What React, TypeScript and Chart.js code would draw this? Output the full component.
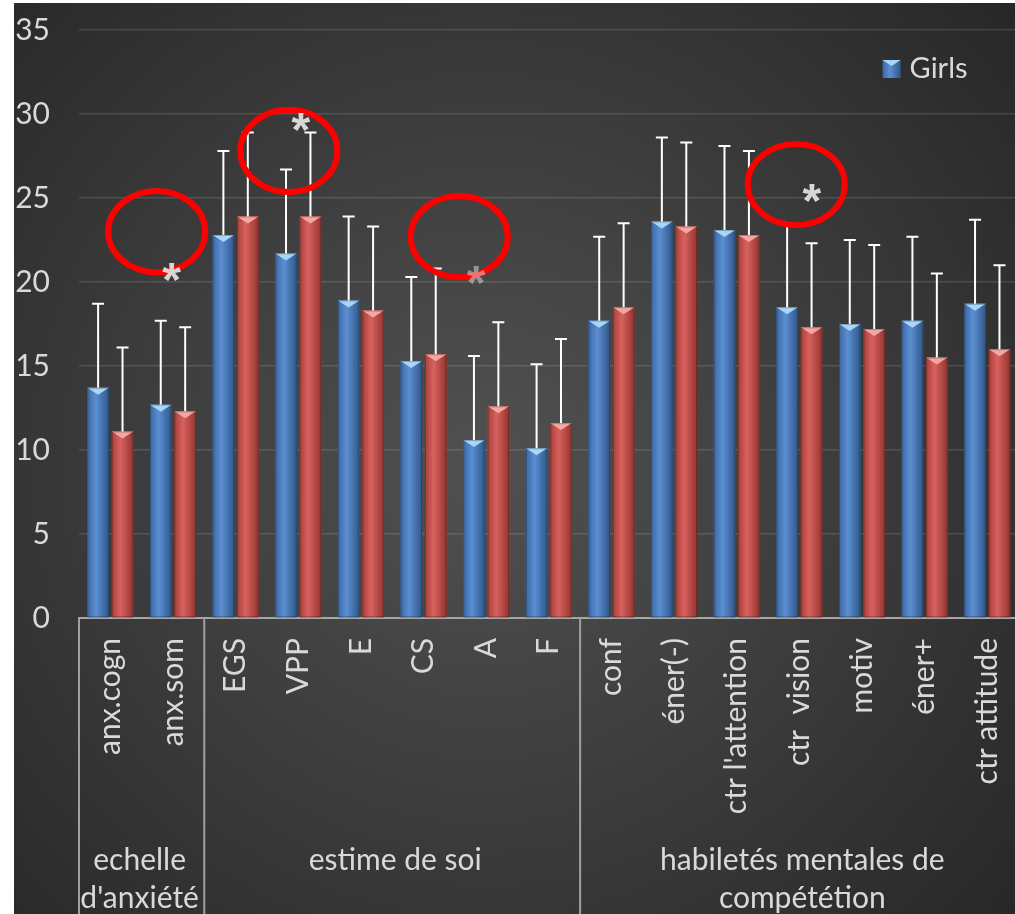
import React, { useEffect, useRef } from "react";
import { Chart, registerables } from "chart.js";
Chart.register(...registerables);

// ---------- data ----------
const categories = [
  "anx.cogn", "anx.som",
  "EGS", "VPP", "E", "CS", "A", "F",
  "conf", "éner(-)", "ctr l'attention", "ctr  vision", "motiv", "éner+", "ctr attitude",
];
const groupNames = [["echelle", "d'anxiété"], ["estime de soi"], ["habiletés mentales de", "compététion"]];
const groupSizes = [2, 6, 7];

const girls = [13.7, 12.7, 22.8, 21.7, 18.9, 15.3, 10.6, 10.1, 17.7, 23.6, 23.1, 18.5, 17.5, 17.7, 18.7];
const boys = [11.1, 12.3, 23.9, 23.9, 18.3, 15.7, 12.6, 11.6, 18.5, 23.3, 22.8, 17.3, 17.2, 15.5, 16.0];
const girlsSD = [5.0, 5.0, 5.0, 5.0, 5.0, 5.0, 5.0, 5.0, 5.0, 5.0, 5.0, 5.0, 5.0, 5.0, 5.0];
const boysSD = [5.0, 5.0, 5.0, 5.0, 5.0, 5.1, 5.0, 5.0, 5.0, 5.0, 5.0, 5.0, 5.0, 5.0, 5.0];

const yTicks = [0, 5, 10, 15, 20, 25, 30, 35];

// significance annotations (category-position units, value units)
const starPos = [0.98, 3.04, 5.84, 11.2];
const starVal = [20.6, 29.5, 20.4, 25.3];
const starAlpha = [1, 1, 0.55, 1];
const ellipsePos = [0.74, 2.85, 5.57, 10.95];
const ellipseVal = [23.0, 27.8, 22.7, 25.8];
const ellipseRadiusCat = [0.775, 0.775, 0.775, 0.775];
const ellipseRadiusVal = [2.42, 2.45, 2.42, 2.42];

const FONT = "Lato";
const TEXT = "#d9d9d9";
const FS = 30;
const TOP_CUT = 20; // canvas rows above the visible dark panel

const palettes = [
  { left: "#3b68a2", mid: "#5b8fd2", right: "#30578a", tip: "#a8d6f8" },
  { left: "#a83f3b", mid: "#d8625d", right: "#933430", tip: "#f3a7a3" },
];

export default function App() {
  const ref = useRef<HTMLCanvasElement>(null);
  useEffect(() => {
    const canvas = ref.current!;
    const bgPlugin = {
      id: "bg",
      beforeDraw(chart: any) {
        const { ctx, width, height } = chart;
        const cy = 460 + TOP_CUT;
        const g = ctx.createRadialGradient(470, cy, 0, 470, cy, 720);
        g.addColorStop(0, "#515151");
        g.addColorStop(1, "#262626");
        ctx.save();
        ctx.fillStyle = "#ffffff";
        ctx.fillRect(0, 0, width, TOP_CUT);
        ctx.fillStyle = g;
        ctx.fillRect(0, TOP_CUT, width, height - TOP_CUT);
        ctx.restore();
      },
    };
    const barPlugin = {
      id: "bars3d",
      afterDatasetsDraw(chart: any) {
        const ctx = chart.ctx;
        const yScale = chart.scales.y;
        chart.data.datasets.forEach((ds: any, di: number) => {
          const meta = chart.getDatasetMeta(di);
          const pal = palettes[di];
          const sds = di === 0 ? girlsSD : boysSD;
          meta.data.forEach((el: any, i: number) => {
            const w = el.width;
            const l = el.x - w / 2;
            const r = el.x + w / 2;
            const top = el.y;
            const base = el.base;
            ctx.save();
            const g = ctx.createLinearGradient(l, 0, r, 0);
            g.addColorStop(0, pal.left);
            g.addColorStop(0.4, pal.mid);
            g.addColorStop(1, pal.right);
            ctx.fillStyle = g;
            ctx.fillRect(l, top, w, base - top);
            ctx.beginPath();
            ctx.moveTo(l, top);
            ctx.lineTo(r, top);
            ctx.lineTo(el.x, top + 7);
            ctx.closePath();
            ctx.fillStyle = pal.tip;
            ctx.fill();
            ctx.strokeStyle = "rgba(0,0,0,0.25)";
            ctx.lineWidth = 1;
            ctx.strokeRect(l + 0.5, top + 0.5, w - 1, base - top - 1);
            // error bar
            const yErr = yScale.getPixelForValue(ds.data[i] + sds[i]);
            ctx.strokeStyle = "#ffffff";
            ctx.lineWidth = 2;
            ctx.beginPath();
            ctx.moveTo(el.x, top);
            ctx.lineTo(el.x, yErr);
            ctx.moveTo(el.x - 6, yErr);
            ctx.lineTo(el.x + 6, yErr);
            ctx.stroke();
            ctx.restore();
          });
        });
      },
    };
    const annoPlugin = {
      id: "anno",
      afterDraw(chart: any) {
        const ctx = chart.ctx;
        const xs = chart.scales.x;
        const ys = chart.scales.y;
        const x0 = xs.getPixelForValue(0);
        const cw = xs.getPixelForValue(1) - x0;
        const unit = ys.getPixelForValue(0) - ys.getPixelForValue(1);
        const px = (p: number) => x0 + p * cw;
        ctx.save();
        // ellipses
        ctx.strokeStyle = "#ff0000";
        ctx.lineWidth = 6;
        ellipsePos.forEach((p, i) => {
          ctx.beginPath();
          ctx.ellipse(px(p), ys.getPixelForValue(ellipseVal[i]), ellipseRadiusCat[i] * cw, ellipseRadiusVal[i] * unit, 0, 0, Math.PI * 2);
          ctx.stroke();
        });
        // asterisks
        ctx.font = "bold 48px 'Liberation Sans'";
        ctx.textAlign = "center";
        ctx.textBaseline = "alphabetic";
        const m = ctx.measureText("*");
        const mid = (m.actualBoundingBoxAscent - m.actualBoundingBoxDescent) / 2;
        starPos.forEach((p, i) => {
          ctx.fillStyle = `rgba(215,215,215,${starAlpha[i]})`;
          ctx.fillText("*", px(p), ys.getPixelForValue(starVal[i]) + mid);
        });
        // group separators + labels
        const axisY = xs.top;
        ctx.strokeStyle = "#a0a0a0";
        ctx.lineWidth = 2;
        let start = 0;
        ctx.beginPath();
        ctx.moveTo(px(-0.5), axisY);
        ctx.lineTo(px(-0.5), chart.height);
        groupSizes.forEach((n) => {
          const e = start + n;
          ctx.moveTo(px(e - 0.5), axisY);
          ctx.lineTo(px(e - 0.5), chart.height);
          start = e;
        });
        ctx.stroke();
        ctx.fillStyle = TEXT;
        ctx.font = `${FS}px ${FONT}`;
        ctx.textBaseline = "middle";
        ctx.textAlign = "center";
        start = 0;
        groupSizes.forEach((n, gi) => {
          const cx = px(start - 0.5 + n / 2) + (gi === 0 ? -2 : 3);
          groupNames[gi].forEach((line, li) => {
            ctx.fillText(line, cx, axisY + 242 + li * 38);
          });
          start += n;
        });
        // legend
        const lx = chart.chartArea.right - 136;
        const ly = chart.chartArea.top + 30;
        const lg = ctx.createLinearGradient(lx, 0, lx + 18, 0);
        lg.addColorStop(0, palettes[0].left);
        lg.addColorStop(0.4, palettes[0].mid);
        lg.addColorStop(1, palettes[0].right);
        ctx.fillStyle = lg;
        ctx.fillRect(lx, ly, 18, 18);
        ctx.beginPath();
        ctx.moveTo(lx, ly);
        ctx.lineTo(lx + 18, ly);
        ctx.lineTo(lx + 9, ly + 6);
        ctx.closePath();
        ctx.fillStyle = palettes[0].tip;
        ctx.fill();
        ctx.fillStyle = TEXT;
        ctx.font = `29px ${FONT}`;
        ctx.textAlign = "left";
        ctx.fillText(chart.data.datasets[0].label, lx + 27, ly + 9);
        ctx.restore();
      },
    };

    const chart = new Chart(canvas, {
      type: "bar",
      data: {
        labels: categories,
        datasets: [
          { label: "Girls", data: girls, backgroundColor: "#4f81bd", borderWidth: 0, categoryPercentage: 0.78, barPercentage: 0.88 },
          { label: "Boys", data: boys, backgroundColor: "#c0504d", borderWidth: 0, categoryPercentage: 0.78, barPercentage: 0.88 },
        ],
      },
      options: {
        animation: false,
        responsive: false,
        devicePixelRatio: 1,
        layout: { padding: { left: 0, top: 0, right: 22, bottom: 0 } },
        plugins: { legend: { display: false }, tooltip: { enabled: false } },
        scales: {
          x: {
            grid: { display: false, drawTicks: false },
            border: { display: true, color: "#a6a6a6", width: 2 },
            ticks: {
              color: TEXT,
              font: { family: FONT, size: FS },
              maxRotation: 90,
              minRotation: 90,
              autoSkip: false,
              padding: 20,
            },
            afterFit: (s: any) => { s.height = 335; },
          },
          y: {
            min: 0,
            max: 35,
            afterBuildTicks: (s: any) => { s.ticks = yTicks.map((v) => ({ value: v })); },
            grid: { color: "rgba(255,255,255,0.13)", lineWidth: 1.5, drawTicks: false },
            border: { display: false },
            ticks: { color: TEXT, font: { family: FONT, size: FS }, padding: 29 },
            afterFit: (s: any) => { s.width = 65; },
          },
        },
      },
      plugins: [bgPlugin, barPlugin, annoPlugin],
    });
    return () => chart.destroy();
  }, []);
  return (
    <div style={{ position: "fixed", left: 0, top: 0, width: "100vw", height: "100vh", overflow: "hidden", background: "#ffffff" }}>
      <canvas ref={ref} width={1030} height={970} style={{ position: "absolute", left: 14, top: 3 - TOP_CUT, width: 1030, height: 970 }} />
    </div>
  );
}
